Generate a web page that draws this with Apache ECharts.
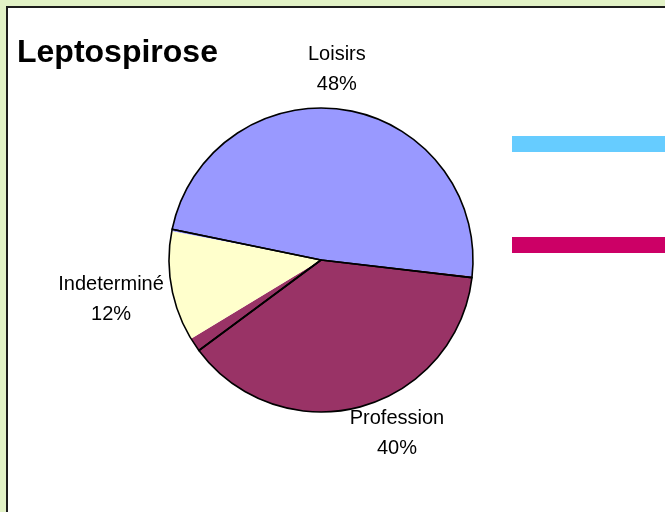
<!DOCTYPE html>
<html>
<head>
<meta charset="utf-8">
<style>
  html, body { margin: 0; padding: 0; background: #e2f2c6; }
  #chart { width: 665px; height: 512px; }
</style>
<script src="https://cdn.jsdelivr.net/npm/echarts@6/dist/echarts.min.js"></script>
</head>
<body>
<div id="chart"></div>
<script>
// catégories et parts
const categories = ['Loisirs', 'Profession', 'Indeterminé']
const pctLabels = ['48%', '40%', '12%']
// angles des remplissages (en % du tour)
const fillValues = [48.7, 39.6, 11.7]
// les traits noirs de séparation sont décalés par rapport aux remplissages
const strokeValues = [48.6, 38.0, 13.4]
const colors = ['#9999ff', '#993366', '#ffffcc']

// petits décalages de position des étiquettes (comme Excel)
const labelShift = [[-13, 1], [34, -16], [-19, 5]]

const chart = echarts.init(document.getElementById('chart'))

const font = '"Liberation Sans", Arial, sans-serif'

chart.setOption({
  backgroundColor: '#e2f2c6',
  animation: false,
  title: {
    text: 'Leptospirose',
    left: 12,
    top: 32,
    textStyle: { fontFamily: font, fontWeight: 'bold', fontSize: 32, color: '#000' },
  },
  graphic: [
    // zone blanche du graphique
    { type: 'rect', z: -10, shape: { x: 7, y: 7, width: 700, height: 600 },
      style: { fill: '#fff', stroke: '#1c1c1c', lineWidth: 2 } },
    // légende coupée à droite
    { type: 'rect', shape: { x: 512, y: 136, width: 160, height: 16 }, style: { fill: '#66ccff' } },
    { type: 'rect', shape: { x: 512, y: 237, width: 160, height: 16 }, style: { fill: '#cc0066' } },
  ],
  series: [
    {
      type: 'pie',
      center: [321, 260],
      radius: 152,
      startAngle: 169.1,
      clockwise: true,
      silent: true,
      data: categories.map((name, i) => ({
        name,
        value: fillValues[i],
        itemStyle: { color: colors[i] },
      })),
      itemStyle: { borderWidth: 0 },
      label: {
        position: 'outside',
        formatter: (p) => p.name + '\n' + pctLabels[p.dataIndex],
        fontFamily: font,
        fontSize: 20,
        lineHeight: 30,
        color: '#000',
        distanceToLabelLine: 0,
      },
      labelLine: { show: false, length: 42, length2: 0 },
      labelLayout: (p) => ({
        align: 'center',
        verticalAlign: 'middle',
        dx: labelShift[p.dataIndex][0],
        dy: labelShift[p.dataIndex][1],
      }),
    },
    {
      // contours noirs
      type: 'pie',
      center: [321, 260],
      radius: 152,
      startAngle: 168.3,
      clockwise: true,
      silent: true,
      data: categories.map((name, i) => ({ name, value: strokeValues[i] })),
      itemStyle: { color: 'rgba(0,0,0,0)', borderColor: '#000', borderWidth: 1.6 },
      label: { show: false },
      labelLine: { show: false },
    },
  ],
})
</script>
</body>
</html>
